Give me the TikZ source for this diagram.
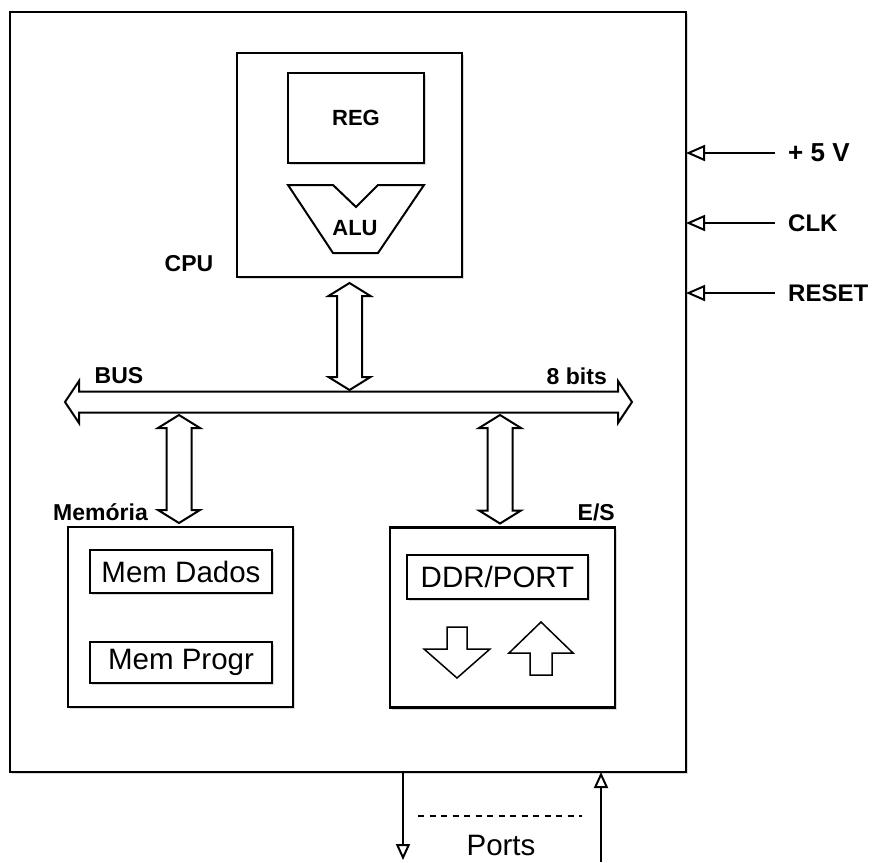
\documentclass[tikz,border=0pt]{standalone}
\usepackage{fontspec}
\setmainfont{Liberation Sans}
\usetikzlibrary{arrows.meta, calc, shadows}

\tikzset{
  box/.style={draw, fill=white, line width=2.2pt, outer sep=0pt, inner sep=0pt,
    drop shadow={shadow xshift=2pt, shadow yshift=-2pt, opacity=0.3}},
  txt/.style={font=\fontsize{29.5}{32}\selectfont, inner sep=0pt},
  lbl/.style={font=\bfseries\fontsize{23}{25}\selectfont, inner sep=0pt},
  inlbl/.style={font=\bfseries\fontsize{22}{24}\selectfont, inner sep=0pt},
  busline/.style={draw, fill=white, line width=2pt, line join=miter},
  blockarrow/.style={draw, fill=white, line width=1.5pt},
  inpin/.style={line width=2pt, -{Triangle[open, length=19pt, width=16pt]}},
  outpin/.style={line width=2pt, -{Triangle[open, length=16pt, width=14pt]}},
  portdash/.style={line width=2pt, dash pattern=on 6pt off 5.5pt}
}

% double headed bus arrow, vertical, from top point to bottom point
\newcommand{\vbusarrow}[2]{%
  \draw[busline] (#1) -- ++(-21,13) -- ++(8.5,0) -- ($(#2)+(-12.5,-13)$)
    -- ++(-8.5,0) -- (#2) -- ++(21,-13) -- ++(-8.5,0) -- ($(#1)+(12.5,13)$)
    -- ++(8.5,0) -- cycle;}

\begin{document}
\begin{tikzpicture}[x=1pt, y=-1pt]
  % Page frame
  \useasboundingbox (0,0) rectangle (877,862);

  % Chip outline
  \node[box, line width=2.8pt, minimum width=676pt, minimum height=760pt] (chip) at (348,392) {};

  % CPU with REG and ALU
  \node[box, minimum width=225pt, minimum height=224pt] (cpu) at (349.5,165) {};
  \node[box, inlbl, minimum width=136pt, minimum height=90pt] (reg) at (356,118) {REG};
  \draw[line width=2pt, fill=white] (288,185) -- (333,185) -- (356,207) -- (378,185)
    -- (424,185) -- (378,253) -- (333,253) -- cycle;
  \node[inlbl] (alu) at (355,228) {ALU};
  \node[lbl] (cpulbl) at (189,264) {CPU};

  % Memory
  \node[box, minimum width=225pt, minimum height=180pt] (mem) at (180.5,617) {};
  \node[box, txt, minimum width=182pt, minimum height=43pt] (memdados) at (181,571.5) {Mem Dados};
  \node[box, txt, minimum width=182pt, minimum height=41pt] (memprogr) at (181,662.5) {Mem Progr};
  \node[lbl, anchor=east] (memlbl) at (148,512) {Memória};

  % I/O
  \node[box, minimum width=225pt, minimum height=180pt] (es) at (502.5,617.5) {};
  \node[box, txt, minimum width=181pt, minimum height=44pt] (ddr) at (497.5,577) {DDR/PORT};
  \draw[blockarrow] (447,627) -- (467,627) -- (467,649) -- (490,649) -- (457,678)
    -- (424,649) -- (447,649) -- cycle;
  \draw[blockarrow] (530,675) -- (552,675) -- (552,653) -- (573,653) -- (541,622)
    -- (509,653) -- (530,653) -- cycle;
  \node[lbl, anchor=east] (eslbl) at (615,512) {E/S};

  % Bus
  \coordinate (busL) at (65,402);
  \coordinate (busR) at (632,402);
  \draw[busline] (busL) -- ++(14,-21) -- ++(0,10.5) -- ($(busR)+(-14,-10.5)$)
    -- ++(0,-10.5) -- (busR) -- ++(-14,21) -- ++(0,-10.5) -- ($(busL)+(14,10.5)$)
    -- ++(0,10.5) -- cycle;
  \node[lbl] (buslbl) at (119,376) {BUS};
  \node[lbl, anchor=east] (bitslbl) at (607,376) {8 bits};

  % Bus links
  \coordinate (cpuA) at ([yshift=-6pt]cpu.south);
  \coordinate (cpuB) at ($(cpu.south |- busL)+(0,-12)$);
  \coordinate (memA) at ($(mem.north |- busL)+(-1.5,13)$);
  \coordinate (memB) at ($(mem.north)+(-1.5,-4)$);
  \coordinate (esA) at ($(es.north |- busL)+(-2.5,13)$);
  \coordinate (esB) at ($(es.north)+(-2.5,-4)$);
  \vbusarrow{cpuA}{cpuB}
  \vbusarrow{memA}{memB}
  \vbusarrow{esA}{esB}

  % Inputs
  \foreach \name/\lab/\y/\fs in {vcc/{+ 5 V}/153/26, clk/CLK/223/24, rst/RESET/293/24} {
    \node[font=\bfseries\fontsize{\fs}{\fs}\selectfont, inner sep=0pt, anchor=west] (\name) at (788,\y) {\lab};
    \draw[inpin] ([xshift=-13pt]\name.west) -- (\name.west -| chip.east);
  }

  % Ports
  \coordinate (portout) at (403,860);
  \coordinate (portin) at (601,862);
  \draw[outpin] (portout |- chip.south) -- (portout);
  \draw[outpin] (portin) -- (portin |- chip.south);
  \draw[portdash] (418,816) -- (582,816);
  \node[txt] (ports) at (501,845) {Ports};
\end{tikzpicture}
\end{document}
